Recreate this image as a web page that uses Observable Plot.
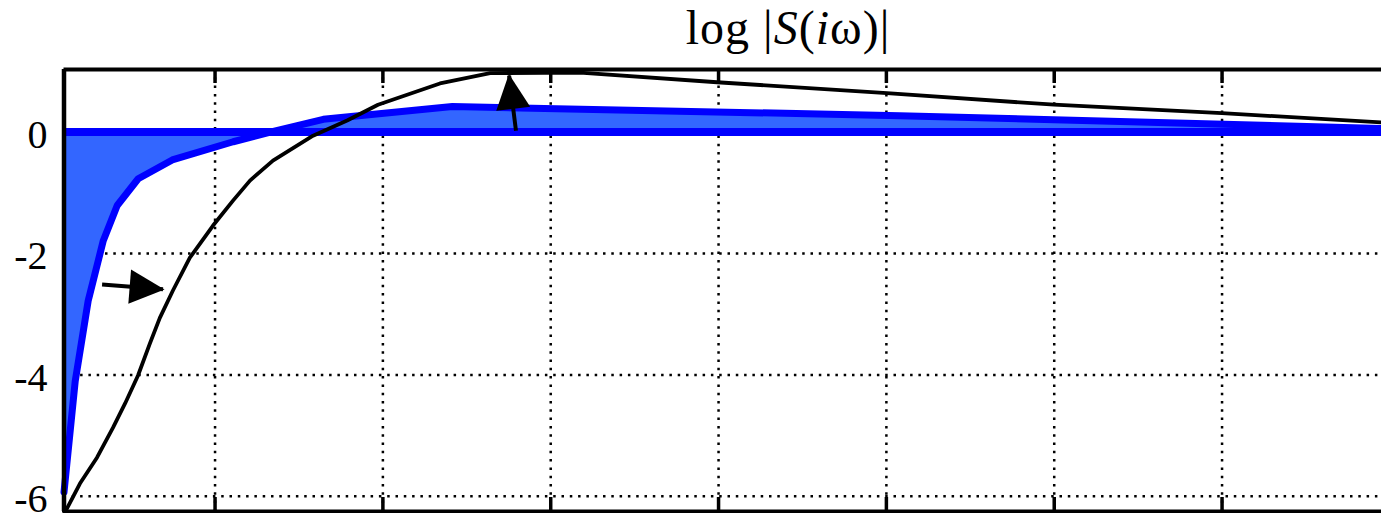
<!DOCTYPE html>
<html>
<head>
<meta charset="utf-8">
<script src="https://cdn.jsdelivr.net/npm/d3@7"></script>
<script src="https://cdn.jsdelivr.net/npm/@observablehq/plot@0.6"></script>
<style>
  html, body { margin: 0; padding: 0; background: white; overflow: hidden; }
  #title { position: relative; height: 67px; font-family: "Liberation Serif", serif; font-size: 48px; }
  #title span { position: absolute; left: 788px; top: 4px; line-height: 48px; transform: translateX(-50%); white-space: nowrap; color: black; letter-spacing: 1px; }
</style>
</head>
<body>
<div id="title"><span>log |<i>S</i>(<i>i</i>ω)|</span></div>
<div id="chart"></div>
<script>
// --- data ---
const omegaBlue = [0.1, 0.167, 0.244, 0.334, 0.417, 0.542, 0.745, 1.108, 1.347, 1.645, 2.414, 5.08, 7.95];
const logSBlue  = [-5.93, -4.10, -2.78, -1.79, -1.21, -0.77, -0.46, -0.16, 0.01, 0.21, 0.42, 0.27, 0.06];

const omegaBlack = [0.1, 0.118, 0.195, 0.297, 0.392, 0.464, 0.541, 0.612, 0.671, 0.749, 0.850, 0.988, 1.107, 1.208, 1.345, 1.584, 1.787, 1.971, 2.340, 2.639, 3.175, 3.991, 5.003, 5.999, 6.999, 7.95];
const logSBlack  = [-6.25, -6.20, -5.79, -5.36, -4.87, -4.47, -4.01, -3.48, -3.06, -2.61, -2.07, -1.54, -1.13, -0.80, -0.47, -0.06, 0.19, 0.45, 0.80, 0.97, 0.98, 0.82, 0.64, 0.45, 0.31, 0.16];

const arrowX1 = [0.327, 2.793];
const arrowY1 = [-2.51, 0.02];
const arrowX2 = [0.690, 2.752];
const arrowY2 = [-2.59, 0.93];

const xTicks = [1, 2, 3, 4, 5, 6, 7];
const yTicks = [0, -2, -4, -6];
const xDomain = [0.1, 7.95];
const yDomain = [-6.25, 1.03];

// tables built from the arrays
const blue = omegaBlue.map((w, i) => ({w, s: logSBlue[i]}));
const black = omegaBlack.map((w, i) => ({w, s: logSBlack[i]}));
const arrows = arrowX1.map((x, i) => ({x1: x, y1: arrowY1[i], x2: arrowX2[i], y2: arrowY2[i]}));

const W = 1381, H = 446, mTop = 2, mBottom = 2;
const innerH = H - mTop - mBottom;
const tickLen = 14;

function filledHead(color, context) {
  return d3.create("svg:marker")
    .attr("viewBox", "0 -5 10 10")
    .attr("refX", 9.6)
    .attr("refY", 0)
    .attr("markerUnits", "userSpaceOnUse")
    .attr("markerWidth", 38)
    .attr("markerHeight", 38)
    .attr("orient", "auto")
    .attr("stroke", "none")
    .call(m => m.append("path").attr("d", "M0.8,-4.5L10,0L0.8,4.5Z").attr("fill", color).attr("stroke", "none"))
    .node();
}

const grid = {stroke: "black", strokeOpacity: 1, strokeWidth: 2.5, strokeDasharray: "2.5,5.8"};

const chart = Plot.plot({
  width: W,
  height: H,
  marginLeft: 63.5,
  marginRight: 0,
  marginTop: mTop,
  marginBottom: mBottom,
  style: {fontFamily: "Liberation Serif, serif", background: "white", color: "black"},
  x: {domain: xDomain, axis: null},
  y: {domain: yDomain, axis: null},
  marks: [
    Plot.gridX(xTicks, grid),
    Plot.gridY(yTicks, grid),
    Plot.areaY(blue, {x: "w", y1: 0, y2: "s", fill: "#3366ff", curve: "linear"}),
    Plot.ruleY([0], {stroke: "#0000ff", strokeWidth: 8}),
    Plot.line(blue, {x: "w", y: "s", stroke: "#0000ff", strokeWidth: 7, strokeLinejoin: "miter"}),
    Plot.line(black, {x: "w", y: "s", stroke: "black", strokeWidth: 3.8}),
    Plot.link(arrows, {x1: "x1", y1: "y1", x2: "x2", y2: "y2", stroke: "black", strokeWidth: 4, strokeLinecap: "butt", markerEnd: filledHead}),
    Plot.ruleX(xTicks, {stroke: "black", strokeWidth: 3.5, insetTop: innerH - tickLen}),
    Plot.ruleX(xTicks, {stroke: "black", strokeWidth: 3.5, insetBottom: innerH - tickLen}),
    Plot.ruleX([xDomain[0]], {stroke: "black", strokeWidth: 4.5}),
    Plot.ruleY([yDomain[1]], {stroke: "black", strokeWidth: 4}),
    Plot.ruleY([yDomain[0]], {stroke: "black", strokeWidth: 4}),
    Plot.axisY(yTicks, {tickSize: 0, tickPadding: 16.5, fontSize: 40, fontFamily: "Liberation Serif", fill: "black", dy: 3, tickFormat: d => `${d}`, label: null})
  ]
});
document.getElementById("chart").appendChild(chart);
</script>
</body>
</html>
